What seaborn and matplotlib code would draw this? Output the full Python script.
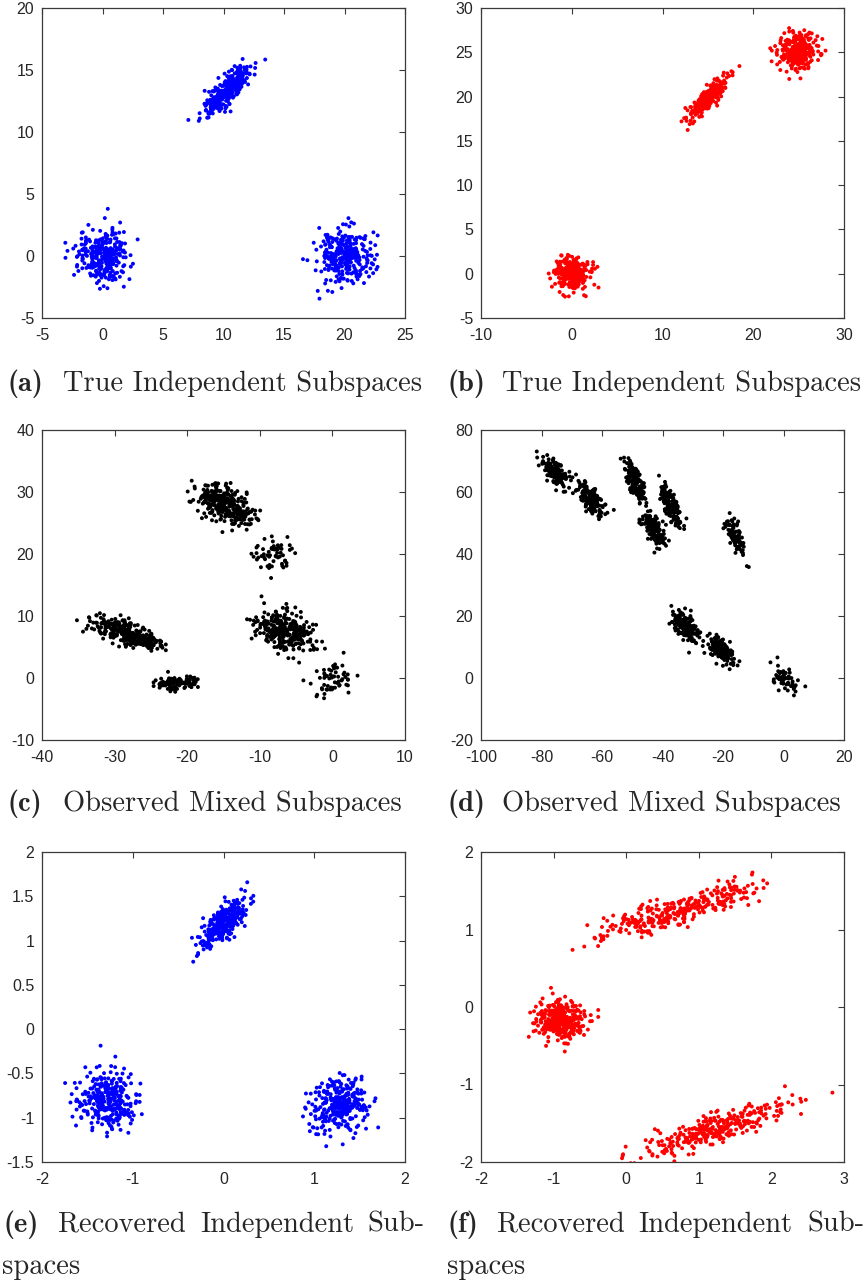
import numpy as np
import pandas as pd
import matplotlib
matplotlib.use("Agg")
import matplotlib.pyplot as plt
import seaborn as sns

# ---------------- data (cluster descriptors) ----------------
# each cluster: centre x, centre y, spread along main axis, spread across, angle (deg), point count
A_CX = [0.0, 20.0, 10.3]
A_CY = [0.0, 0.0, 13.4]
A_SMAJ = [1.1, 1.1, 1.3]
A_SMIN = [1.05, 1.05, 0.45]
A_ANG = [0, 0, 46]
A_N = [300, 300, 300]

B_CX = [0.0, 15.0, 25.0]
B_CY = [0.0, 19.8, 25.1]
B_SMAJ = [0.9, 1.35, 1.05]
B_SMIN = [0.9, 0.4, 1.05]
B_ANG = [0, 47, 0]
B_N = [300, 300, 300]

C_CX = [-16.2, -13.5, -8.0, -30.0, -26.5, -21.5, -8.0, -5.5, 0.0]
C_CY = [29.0, 26.8, 19.8, 8.2, 6.2, -0.8, 8.3, 6.8, -0.2]
C_SMAJ = [1.5, 1.6, 1.4, 1.8, 1.6, 1.6, 1.5, 1.5, 1.5]
C_SMIN = [1.3, 1.3, 1.3, 0.85, 0.7, 0.55, 1.4, 1.3, 1.3]
C_ANG = [-20, -20, 0, -15, -10, 0, -20, -20, 30]
C_N = [150, 150, 60, 150, 150, 100, 150, 150, 60]

D_CX = [-75.5, -64.0, -49.0, -43.0, -37.0, -16.0, -32.0, -20.5, 0.0]
D_CY = [66.5, 58.0, 63.0, 48.5, 55.5, 46.0, 16.0, 9.0, 0.0]
D_SMAJ = [2.8, 3.0, 3.4, 3.0, 3.6, 3.3, 3.3, 3.0, 3.4]
D_SMIN = [1.4, 1.5, 1.1, 1.4, 1.2, 1.0, 1.5, 1.4, 1.3]
D_ANG = [-45, -53, -70, -60, -66, -65, -54, -52, -50]
D_N = [150, 150, 150, 150, 150, 80, 150, 150, 60]

E_CX = [-1.28, 1.27, 0.0]
E_CY = [-0.8, -0.85, 1.2]
E_SMAJ = [0.16, 0.16, 0.19]
E_SMIN = [0.16, 0.16, 0.07]
E_ANG = [0, 0, 45]
E_N = [300, 300, 300]

F_CX = [-0.9, 0.8, 1.2]
F_CY = [-0.17, 1.26, -1.58]
F_SMAJ = [0.16, 0.6, 0.55]
F_SMIN = [0.12, 0.09, 0.09]
F_ANG = [0, 15, 17]
F_N = [350, 300, 300]

XLIMS = [(-5, 25), (-10, 30), (-40, 10), (-100, 20), (-2, 2), (-2, 3)]
YLIMS = [(-5, 20), (-5, 30), (-10, 40), (-20, 80), (-1.5, 2), (-2, 2)]
XTICKS = [[-5, 0, 5, 10, 15, 20, 25], [-10, 0, 10, 20, 30], [-40, -30, -20, -10, 0, 10],
          [-100, -80, -60, -40, -20, 0, 20], [-2, -1, 0, 1, 2], [-2, -1, 0, 1, 2, 3]]
YTICKS = [[-5, 0, 5, 10, 15, 20], [-5, 0, 5, 10, 15, 20, 25, 30], [-10, 0, 10, 20, 30, 40],
          [-20, 0, 20, 40, 60, 80], [-1.5, -1, -0.5, 0, 0.5, 1, 1.5, 2], [-2, -1, 0, 1, 2]]
COLORS = ["#0000ff", "#ff0000", "#000000", "#000000", "#0000ff", "#ff0000"]
LABELS = ["(a)", "(b)", "(c)", "(d)", "(e)", "(f)"]
CAPTIONS = ["True Independent Subspaces", "True Independent Subspaces",
            "Observed Mixed Subspaces", "Observed Mixed Subspaces",
            "Recovered Independent Sub-|spaces", "Recovered Independent Sub-|spaces"]

PANELS = [
    (A_CX, A_CY, A_SMAJ, A_SMIN, A_ANG, A_N),
    (B_CX, B_CY, B_SMAJ, B_SMIN, B_ANG, B_N),
    (C_CX, C_CY, C_SMAJ, C_SMIN, C_ANG, C_N),
    (D_CX, D_CY, D_SMAJ, D_SMIN, D_ANG, D_N),
    (E_CX, E_CY, E_SMAJ, E_SMIN, E_ANG, E_N),
    (F_CX, F_CY, F_SMAJ, F_SMIN, F_ANG, F_N),
]


def cloud(cx, cy, smaj, smin, ang, n, rng):
    z = rng.standard_normal((n, 2)) * np.array([smaj, smin])
    t = np.deg2rad(ang)
    rot = np.array([[np.cos(t), -np.sin(t)], [np.sin(t), np.cos(t)]])
    p = z @ rot.T
    return p[:, 0] + cx, p[:, 1] + cy


# ---------------- figure ----------------
sns.set_style("white")
plt.rcParams["font.family"] = ["Liberation Sans", "DejaVu Sans"]
plt.rcParams["axes.unicode_minus"] = False

W, H = 868, 1287
fig = plt.figure(figsize=(W / 100, H / 100), dpi=100)
fig.patch.set_facecolor("white")

LEFTS = [42, 481]
TOPS = [8, 430, 852]
AW, AH = 363, 310
AX_COL = "#3a3a3a"
CAP_OFF = [73, 71, 70]

rng = np.random.default_rng(11)
for i, (cxs, cys, smaj, smin, angs, ns) in enumerate(PANELS):
    row, col = divmod(i, 2)
    l, t = LEFTS[col], TOPS[row]
    ax = fig.add_axes([l / W, 1 - (t + AH) / H, AW / W, AH / H])
    xs, ys = [], []
    for k in range(len(cxs)):
        x, y = cloud(cxs[k], cys[k], smaj[k], smin[k], angs[k], ns[k], rng)
        xs.append(x)
        ys.append(y)
    df = pd.DataFrame({"x": np.concatenate(xs), "y": np.concatenate(ys)})
    sns.scatterplot(data=df, x="x", y="y", ax=ax, color=COLORS[i], s=8,
                    linewidth=0, edgecolor="none", legend=False)
    ax.set_xlim(*XLIMS[i])
    ax.set_ylim(*YLIMS[i])
    ax.set_xticks(XTICKS[i])
    ax.set_yticks(YTICKS[i])
    ax.set_xticklabels([f"{v:g}" for v in XTICKS[i]])
    ax.set_yticklabels([f"{v:g}" for v in YTICKS[i]])
    ax.set_xlabel("")
    ax.set_ylabel("")
    for s in ax.spines.values():
        s.set_visible(True)
        s.set_color(AX_COL)
        s.set_linewidth(0.9)
    ax.tick_params(axis="both", direction="in", top=True, right=True, length=4.5,
                   width=0.8, color=AX_COL, labelsize=11.5, labelcolor="#262626")
    ax.tick_params(axis="x", pad=7)
    ax.tick_params(axis="y", pad=5.5)

    # captions
    base_y = t + AH + CAP_OFF[row]
    lab_x = [8, 447][col]
    txt_x = [63, 502][col]
    cap = CAPTIONS[i]
    if "|" not in cap:
        fig.text(lab_x / W, 1 - base_y / H, LABELS[i], family="cmb10", fontsize=20.5,
                 va="baseline", ha="left")
        fig.text(txt_x / W, 1 - base_y / H, cap, family="cmr10", fontsize=20.5,
                 va="baseline", ha="left")
    else:
        line1, line2 = cap.split("|")
        words = line1.split(" ")
        wx = [[3, 58, 200, 367], [447, 497, 638, 807]][col]
        fig.text(wx[0] / W, 1 - base_y / H, LABELS[i], family="cmb10", fontsize=20.5,
                 va="baseline", ha="left")
        for w, x0 in zip(words, wx[1:]):
            fig.text(x0 / W, 1 - base_y / H, w, family="cmr10", fontsize=20.5,
                     va="baseline", ha="left")
        fig.text([2, 447][col] / W, 1 - (base_y + 42) / H, line2, family="cmr10",
                 fontsize=20.5, va="baseline", ha="left")

fig.savefig("out.png", dpi=100, facecolor="white")
